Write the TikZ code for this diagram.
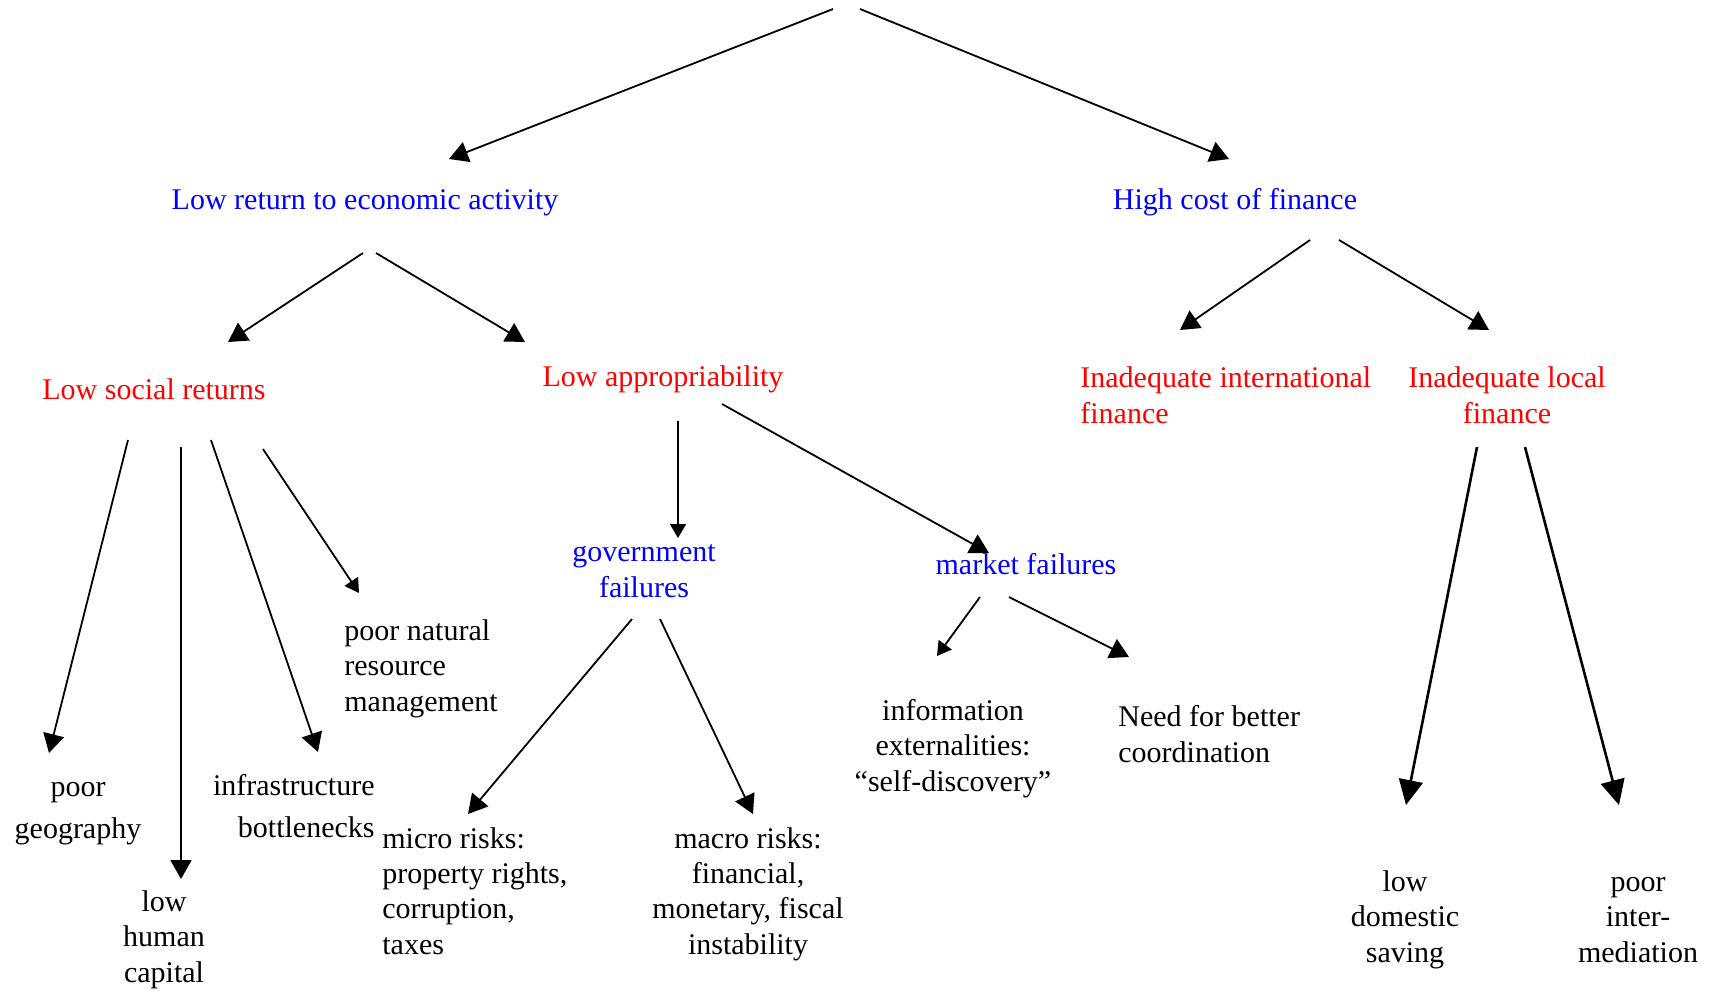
\documentclass[tikz,border=0pt]{standalone}
\usepackage{fontspec}
\setmainfont{Liberation Serif}
\usetikzlibrary{arrows.meta}
\definecolor{tblue}{RGB}{0,0,255}
\definecolor{tred}{RGB}{255,0,0}
\begin{document}
\begin{tikzpicture}[x=0.5pt,y=-0.5pt,
  lbl/.style={inner sep=0pt, font=\fontsize{15}{17.6}\selectfont},
  lblw/.style={inner sep=0pt, font=\fontsize{15}{20.8}\selectfont},
  bl/.style={text=tblue},
  rd/.style={text=tred},
  conn/.style={line width=0.9pt, -{Triangle[length=9.5pt,width=10.5pt]}},
  conns/.style={line width=0.9pt, -{Triangle[length=7pt,width=8pt]}},
  connl/.style={line width=1.3pt, -{Triangle[length=12.5pt,width=12pt]}},
]
\useasboundingbox (0,0) rectangle (1718,992);
% labels (base anchor = baseline of the last line)
\node[lbl,bl,anchor=base] (lowret) at (365,209) {Low return to economic activity};
\node[lbl,bl,anchor=base] (highcost) at (1235,209) {High cost of finance};
\node[lbl,rd,anchor=base] (lowsoc) at (154,399) {Low social returns};
\node[lbl,rd,anchor=base] (lowapp) at (663,386) {Low appropriability};
\node[lbl,rd,anchor=base west,align=left] (inint) at (1080,423) {Inadequate international\\finance};
\node[lbl,rd,anchor=base,align=center] (inloc) at (1507,423) {Inadequate local\\finance};
\node[lbl,bl,anchor=base,align=center] (gov) at (644,597) {government\\failures};
\node[lbl,bl,anchor=base] (mkt) at (1026,574) {market failures};
\node[lbl,anchor=base west,align=left] (nat) at (344,711) {poor natural\\resource\\management};
\node[lblw,anchor=base,align=center] (geo) at (78,838) {poor\\geography};
\node[lbl,anchor=base,align=center] (hum) at (164,982) {low\\human\\capital};
\node[lblw,anchor=base east,align=right] (infra) at (375,837) {infrastructure\\bottlenecks};
\node[lbl,anchor=base west,align=left] (micro) at (382,954) {micro risks:\\property rights,\\corruption,\\taxes};
\node[lbl,anchor=base,align=center] (macro) at (748,954) {macro risks:\\financial,\\monetary, fiscal\\instability};
\node[lbl,anchor=base,align=center] (info) at (953,791) {information\\externalities:\\“self-discovery”};
\node[lbl,anchor=base west,align=left] (need) at (1118,762) {Need for better\\coordination};
\node[lbl,anchor=base,align=center] (sav) at (1405,962) {low\\domestic\\saving};
\node[lbl,anchor=base,align=center] (inter) at (1638,962) {poor\\inter-\\mediation};
% connector end points
\coordinate (s1) at (833,9);    \coordinate (e1) at (449,159);
\coordinate (s2) at (860,9);    \coordinate (e2) at (1229,159);
\coordinate (s3) at (363,253);  \coordinate (e3) at (228,342);
\coordinate (s4) at (376,253);  \coordinate (e4) at (525,342);
\coordinate (s5) at (1310,240); \coordinate (e5) at (1180,330);
\coordinate (s6) at (1339,240); \coordinate (e6) at (1489,330);
\coordinate (s7) at (128,440);  \coordinate (e7) at (49,753);
\coordinate (s8) at (181,447);  \coordinate (e8) at (181,879);
\coordinate (s9) at (211,440);  \coordinate (e9) at (318,752);
\coordinate (s10) at (263,449); \coordinate (e10) at (359,593);
\coordinate (s11) at (678,421); \coordinate (e11) at (678,538);
\coordinate (s12) at (722,404); \coordinate (e12) at (989,553);
\coordinate (s13) at (632,619); \coordinate (e13) at (468,814);
\coordinate (s14) at (660,619); \coordinate (e14) at (753,814);
\coordinate (s15) at (980,597); \coordinate (e15) at (937,656);
\coordinate (s16) at (1009,597);\coordinate (e16) at (1129,657);
\coordinate (s17) at (1477,447);\coordinate (e17) at (1406,805);
\coordinate (s18) at (1525,447);\coordinate (e18) at (1619,805);
% connectors
\draw[conn] (s1) -- (e1);
\draw[conn] (s2) -- (e2);
\draw[conn] (s3) -- (e3);
\draw[conn] (s4) -- (e4);
\draw[conn] (s5) -- (e5);
\draw[conn] (s6) -- (e6);
\draw[conn] (s7) -- (e7);
\draw[conn] (s8) -- (e8);
\draw[conn] (s9) -- (e9);
\draw[conns] (s10) -- (e10);
\draw[conns] (s11) -- (e11);
\draw[conn] (s12) -- (e12);
\draw[conn] (s13) -- (e13);
\draw[conn] (s14) -- (e14);
\draw[conns] (s15) -- (e15);
\draw[conn] (s16) -- (e16);
\draw[connl] (s17) -- (e17);
\draw[connl] (s18) -- (e18);
\end{tikzpicture}
\end{document}
